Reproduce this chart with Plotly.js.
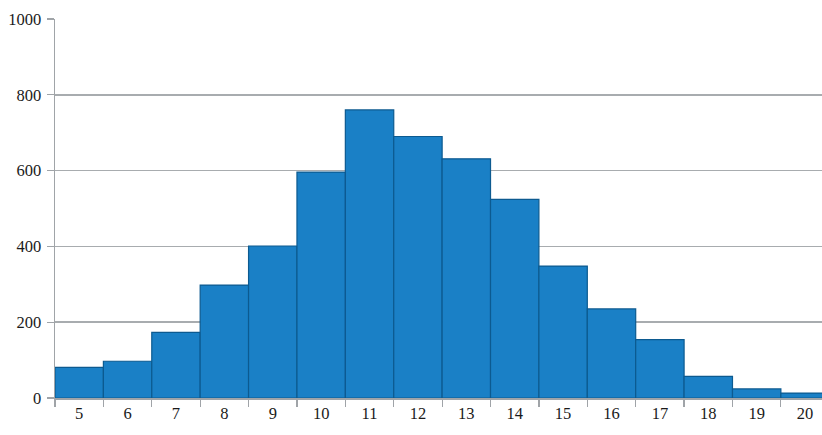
<!DOCTYPE html>
<html><head><meta charset="utf-8">
<script src="https://cdn.plot.ly/plotly-3.0.1.min.js"></script>
<style>html,body{margin:0;padding:0;background:#fff}#c{width:822px;height:435px}</style>
</head><body><div id="c"></div>
<script>
const categories = ["5","6","7","8","9","10","11","12","13","14","15","16","17","18","19","20"];
const counts = [81, 97, 173, 298, 401, 596, 760, 690, 631, 524, 348, 235, 154, 57, 24, 13];
const yTicks = [0, 200, 400, 600, 800, 1000];

const tickFont = {family: 'Liberation Serif, Times New Roman, serif', size: 16.5, color: '#1a1a1a'};
const trace = {
  type: 'bar', x: categories, y: counts,
  marker: {color: '#1a80c6', line: {color: '#0c5a90', width: 1.2}},
  hoverinfo: 'x+y'
};
const layout = {
  width: 822, height: 435,
  margin: {l: 55, r: 0, t: 18.7, b: 36.7},
  paper_bgcolor: '#fff', plot_bgcolor: '#fff',
  bargap: 0, showlegend: false,
  font: tickFont,
  xaxis: {type: 'category', range: [-0.5, 15.35], tickson: 'boundaries', tickfont: tickFont,
    ticks: 'outside', ticklen: 7, tickcolor: '#a0a4a8', tickwidth: 1.2,
    showline: true, linecolor: '#a0a4a8', linewidth: 1.5, showgrid: false,
    zeroline: false, fixedrange: true, ticklabelstandoff: 0},
  yaxis: {range: [0, 1000], tickvals: yTicks, tickfont: tickFont, ticks: 'outside', ticklen: 7,
    tickcolor: '#a0a4a8', tickwidth: 1.2, showline: true, linecolor: '#a0a4a8', linewidth: 1.5,
    gridcolor: '#a8acaf', gridwidth: 1.5, zeroline: false, fixedrange: true, ticklabelstandoff: 2}
};
Plotly.newPlot('c', [trace], layout, {displayModeBar: false, staticPlot: true});
</script></body></html>
